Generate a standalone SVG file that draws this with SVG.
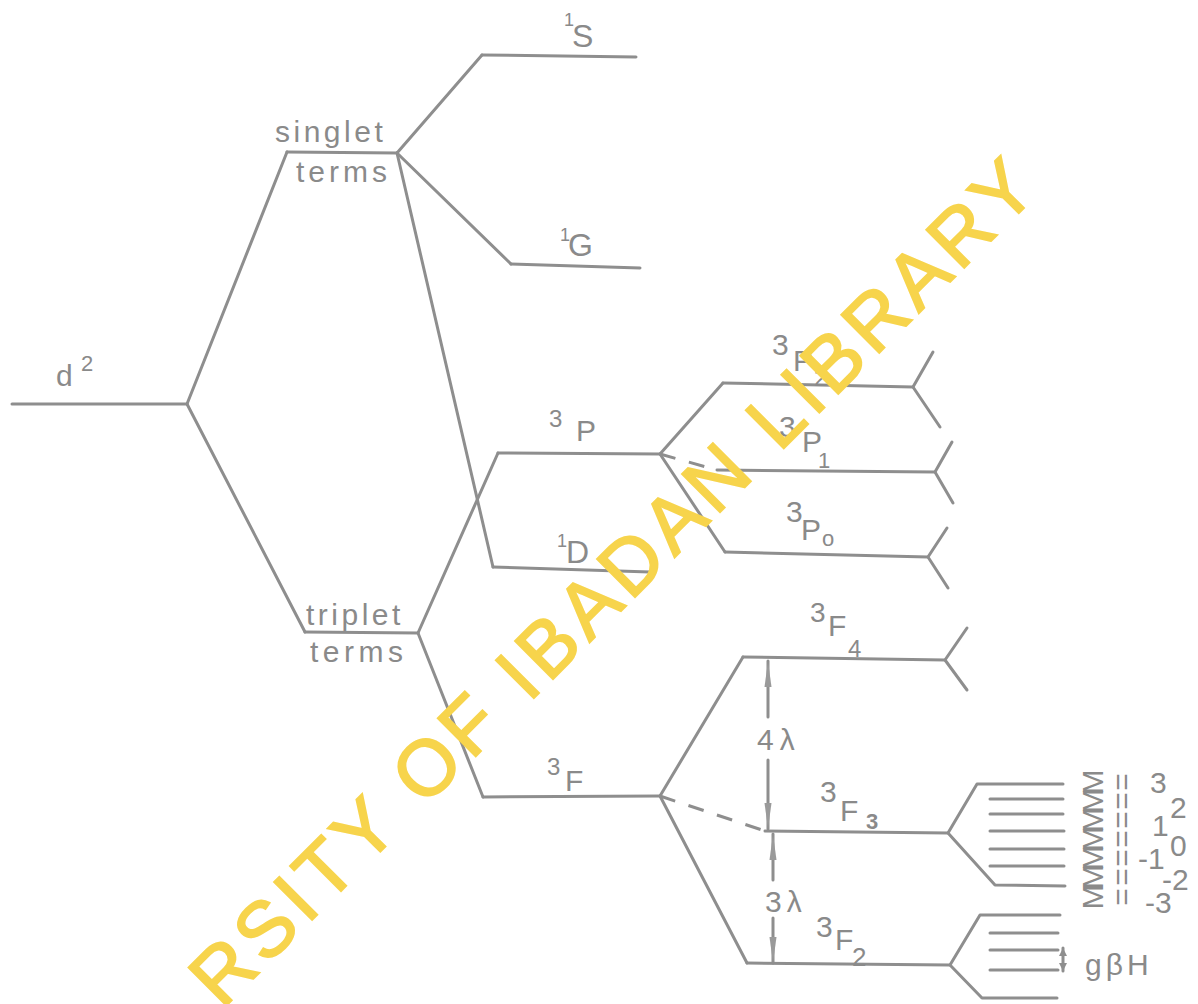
<svg xmlns="http://www.w3.org/2000/svg" width="1198" height="1004" viewBox="0 0 1198 1004">
<style>
.ln{stroke:#8e8e8e;stroke-width:3;fill:none;stroke-linecap:round;stroke-linejoin:round}
.ds{stroke:#8e8e8e;stroke-width:3;fill:none;stroke-dasharray:16 14}
.lb{font-family:"Liberation Sans",Arial,sans-serif;fill:#8a8a8a;font-size:30px}
.s{font-size:22px}
.wm{font-family:"Liberation Sans",Arial,sans-serif;font-size:78px;fill:#f7d44c;letter-spacing:6px;stroke:#f7d44c;stroke-width:2}
</style>
<defs>
<marker id="ah" viewBox="0 0 26 10" refX="26" refY="5" markerWidth="26" markerHeight="10" markerUnits="userSpaceOnUse" orient="auto"><path d="M0,1.5 L26,5 L0,8.5 Z" fill="#9a9a9a"/></marker>
<marker id="sa" viewBox="0 0 8 8" refX="8" refY="4" markerWidth="8" markerHeight="8" markerUnits="userSpaceOnUse" orient="auto-start-reverse"><path d="M0,0 L8,4 L0,8 Z" fill="#8e8e8e"/></marker>
</defs>
<rect width="1198" height="1004" fill="#ffffff"/>

<g id="connectors">
<path class="ln" d="M187,404 L287,152"/>
<path class="ln" d="M187,404 L305,632"/>
<path class="ln" d="M397,153 L482,55"/>
<path class="ln" d="M397,153 L511,264"/>
<path class="ln" d="M397,153 L493,567"/>
<path class="ln" d="M418,633 L498,453"/>
<path class="ln" d="M418,633 L483,797"/>
<path class="ln" d="M660,454 L723,383"/>
<path class="ds" d="M660,454 L717,470"/>
<path class="ln" d="M660,454 L725,552"/>
<path class="ln" d="M660,796 L743,657"/>
<path class="ds" d="M660,796 L765,831"/>
<path class="ln" d="M660,796 L747,963"/>
<path class="ln" d="M913,387 L933,352 M913,387 L940,427"/>
<path class="ln" d="M935,472 L952,442 M935,472 L953,503"/>
<path class="ln" d="M928,557 L947,528 M928,557 L948,588"/>
<path class="ln" d="M945,660 L967,628 M945,660 L967,690"/>
<path class="ln" d="M948,833 L977,784 L1063,784 M948,833 L995,885 L1065,886"/>
<path class="ln" d="M950,965 L980,915 L1060,915 M950,965 L982,998 L1057,998"/>
<line class="ln" x1="768" y1="717" x2="768" y2="661" marker-end="url(#ah)"/>
<line class="ln" x1="768" y1="760" x2="768" y2="829" marker-end="url(#ah)"/>
<line class="ln" x1="773" y1="880" x2="773" y2="834" marker-end="url(#ah)"/>
<line class="ln" x1="773" y1="918" x2="773" y2="963" marker-end="url(#ah)"/>
<line class="ln" stroke-width="2" x1="1063" y1="948" x2="1063" y2="971" marker-start="url(#sa)" marker-end="url(#sa)"/>
</g>

<g id="d2"><path class="ln" d="M12,404 L187,404"/>
<text class="lb"><tspan x="56" y="386">d</tspan><tspan class="s" x="81" y="371">2</tspan></text></g>

<g id="singlet"><path class="ln" d="M287,152 L397,153"/>
<text class="lb" letter-spacing="3.5" x="275" y="142">singlet</text>
<text class="lb" letter-spacing="4" x="296" y="182">terms</text></g>

<g id="triplet"><path class="ln" d="M305,632 L418,633"/>
<text class="lb" letter-spacing="3.5" x="306" y="625">triplet</text>
<text class="lb" letter-spacing="4.5" x="310" y="662">terms</text></g>

<g id="t1S"><path class="ln" d="M482,55 L636,57"/>
<text class="lb"><tspan font-size="18" x="564" y="26">1</tspan><tspan font-size="32" x="572" y="47">S</tspan></text></g>

<g id="t1G"><path class="ln" d="M511,264 L640,268"/>
<text class="lb"><tspan font-size="18" x="560" y="241">1</tspan><tspan font-size="32" x="568" y="256">G</tspan></text></g>

<g id="t1D"><path class="ln" d="M493,567 L650,572"/>
<text class="lb"><tspan font-size="18" x="557" y="547">1</tspan><tspan font-size="32" x="566" y="563">D</tspan></text></g>

<g id="t3P"><path class="ln" d="M498,453 L660,454"/>
<text class="lb"><tspan font-size="24" x="549" y="427">3</tspan><tspan x="576" y="441">P</tspan></text></g>

<g id="t3F"><path class="ln" d="M483,797 L660,796"/>
<text class="lb"><tspan font-size="24" x="547" y="775">3</tspan><tspan x="565" y="791">F</tspan></text></g>

<g id="t3P2"><path class="ln" d="M723,383 L913,387"/>
<text class="lb"><tspan x="772" y="355">3</tspan><tspan x="793" y="371">P</tspan><tspan font-size="24" x="814" y="386">2</tspan></text></g>

<g id="t3P1"><path class="ln" d="M717,470 L935,472"/>
<text class="lb"><tspan x="779" y="437">3</tspan><tspan x="802" y="452">P</tspan><tspan class="s" x="818" y="468">1</tspan></text></g>

<g id="t3P0"><path class="ln" d="M725,552 L928,557"/>
<text class="lb"><tspan x="786" y="522">3</tspan><tspan x="801" y="540">P</tspan><tspan class="s" x="822" y="546">o</tspan></text></g>

<g id="t3F4"><path class="ln" d="M743,657 L945,660"/>
<text class="lb"><tspan font-size="28" x="810" y="622">3</tspan><tspan x="828" y="636">F</tspan><tspan font-size="24" x="848" y="657">4</tspan></text></g>

<g id="t3F3"><path class="ln" d="M765,831 L948,833"/>
<text class="lb"><tspan x="820" y="802">3</tspan><tspan x="840" y="821">F</tspan><tspan font-size="22" font-weight="bold" x="866" y="829">3</tspan></text>
<path class="ln" d="M990,799 L1063,799 M990,814 L1063,814 M990,831 L1064,831 M990,849 L1064,849 M990,866 L1064,866"/>
<g class="lb" font-size="24">
<text transform="translate(1092,782) rotate(-90)" text-anchor="middle" dominant-baseline="central">M</text>
<text transform="translate(1092,801) rotate(-90)" text-anchor="middle" dominant-baseline="central">M</text>
<text transform="translate(1092,820) rotate(-90)" text-anchor="middle" dominant-baseline="central">M</text>
<text transform="translate(1092,839) rotate(-90)" text-anchor="middle" dominant-baseline="central">M</text>
<text transform="translate(1092,858) rotate(-90)" text-anchor="middle" dominant-baseline="central">M</text>
<text transform="translate(1092,877) rotate(-90)" text-anchor="middle" dominant-baseline="central">M</text>
<text transform="translate(1092,897) rotate(-90)" text-anchor="middle" dominant-baseline="central">M</text>
</g>
<g class="lb" font-size="16">
<text transform="translate(1121,782) rotate(-90)" text-anchor="middle" dominant-baseline="central">=</text>
<text transform="translate(1121,801) rotate(-90)" text-anchor="middle" dominant-baseline="central">=</text>
<text transform="translate(1121,820) rotate(-90)" text-anchor="middle" dominant-baseline="central">=</text>
<text transform="translate(1121,839) rotate(-90)" text-anchor="middle" dominant-baseline="central">=</text>
<text transform="translate(1121,858) rotate(-90)" text-anchor="middle" dominant-baseline="central">=</text>
<text transform="translate(1121,877) rotate(-90)" text-anchor="middle" dominant-baseline="central">=</text>
<text transform="translate(1121,897) rotate(-90)" text-anchor="middle" dominant-baseline="central">=</text>
</g>
<g class="lb" font-size="26">
<text x="1150" y="793">3</text>
<text x="1170" y="818">2</text>
<text x="1152" y="836">1</text>
<text x="1170" y="856">0</text>
<text x="1138" y="869">-1</text>
<text x="1162" y="890">-2</text>
<text x="1145" y="913">-3</text>
</g></g>

<g id="t3F2"><path class="ln" d="M747,963 L950,965"/>
<text class="lb"><tspan x="816" y="937">3</tspan><tspan x="835" y="950">F</tspan><tspan font-size="26" x="852" y="966">2</tspan></text>
<path class="ln" d="M990,933 L1058,933 M990,950 L1058,950 M990,970 L1058,970"/>
<text class="lb" letter-spacing="4" x="1085" y="975">gβH</text></g>

<g id="splitting-labels">
<text class="lb" font-size="24" letter-spacing="6" x="757" y="750">4λ</text>
<text class="lb" letter-spacing="5" x="765" y="912">3λ</text>
</g>

<g id="watermark">
<text class="wm" transform="translate(222,1010) rotate(-45)">RSITY OF IBADAN LIBRARY</text>
</g>
</svg>
